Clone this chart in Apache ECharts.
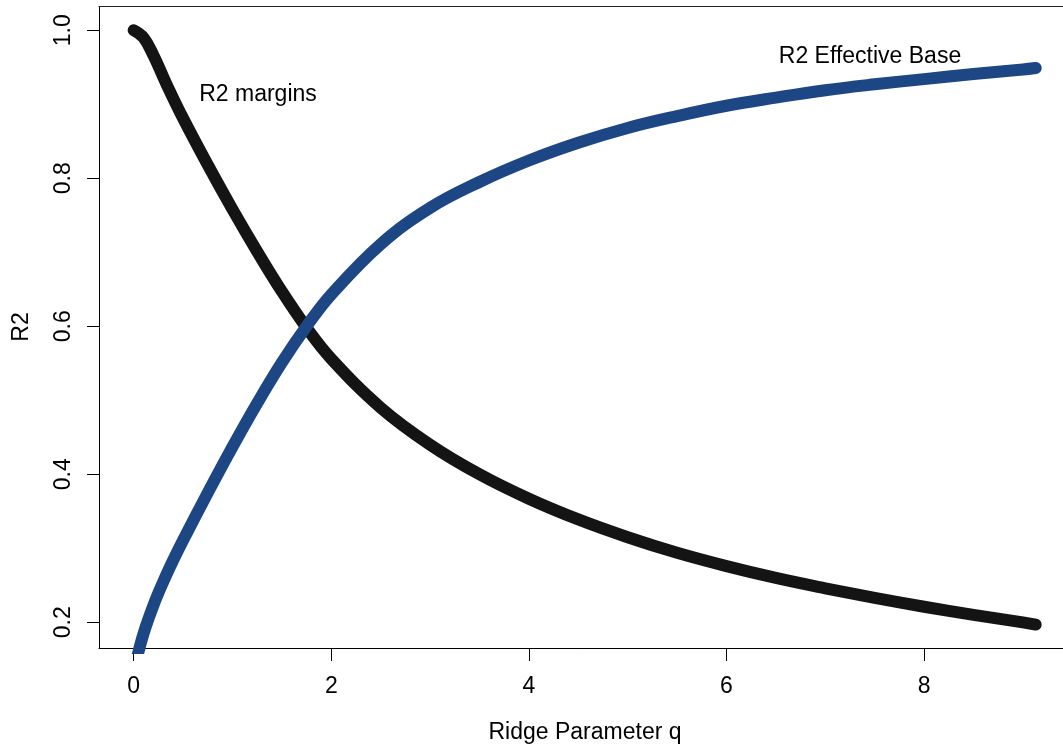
<!DOCTYPE html>
<html>
<head>
<meta charset="utf-8">
<script src="https://cdn.jsdelivr.net/npm/echarts@6/dist/echarts.min.js"></script>
<style>
  html, body { margin: 0; padding: 0; background: #fff; }
  #chart { width: 1063px; height: 748px; }
</style>
</head>
<body>
<div id="chart"></div>
<script>
// ---- data ----
const qMargins = [0, 0.1, 0.2, 0.35, 0.5, 0.75, 1, 1.25, 1.5, 1.75, 2, 2.5, 3, 3.5, 4, 4.5, 5, 5.5, 6, 6.5, 7, 7.5, 8, 8.5, 9, 9.13];
const r2Margins = [1.000, 0.990, 0.966, 0.922, 0.881, 0.818, 0.758, 0.701, 0.647, 0.598, 0.556, 0.490, 0.440, 0.400, 0.367, 0.339, 0.315, 0.294, 0.276, 0.260, 0.246, 0.233, 0.221, 0.210, 0.200, 0.197];

const qEffective = [0.03, 0.1, 0.2, 0.3, 0.4, 0.5, 0.75, 1, 1.25, 1.5, 1.75, 2, 2.5, 3, 3.5, 4, 4.5, 5, 5.5, 6, 6.5, 7, 7.5, 8, 8.5, 9, 9.13];
const r2Effective = [0.150, 0.185, 0.223, 0.255, 0.284, 0.311, 0.375, 0.437, 0.496, 0.551, 0.600, 0.643, 0.711, 0.760, 0.795, 0.824, 0.848, 0.868, 0.884, 0.898, 0.909, 0.919, 0.927, 0.934, 0.941, 0.947, 0.949];

const xTicks = [0, 2, 4, 6, 8];
const yTicks = [0.2, 0.4, 0.6, 0.8, 1.0];

const xTitle = 'Ridge Parameter q';
const yTitle = 'R2';
const labelMargins = 'R2 margins';
const labelEffective = 'R2 Effective Base';

// ---- chart ----
const FONT = '"Liberation Sans", Arial, Helvetica, sans-serif';
const FS = 23;
const chart = echarts.init(document.getElementById('chart'), null, { renderer: 'canvas' });

const marginsData = qMargins.map((q, i) => [q, r2Margins[i]]);
const effectiveData = qEffective.map((q, i) => [q, r2Effective[i]]);

const X_MIN = -0.351, X_MAX = 9.406;

chart.setOption({
  animation: false,
  backgroundColor: '#ffffff',
  grid: { left: 99, top: 6.5, right: 0, height: 641.5, show: false },
  xAxis: [
    {
      type: 'value', min: X_MIN, max: X_MAX,
      axisLine: { show: true, onZero: false, lineStyle: { color: '#000', width: 1 } },
      axisTick: { show: true, length: 13, customValues: xTicks, lineStyle: { color: '#000' } },
      axisLabel: { customValues: xTicks, margin: 27, fontSize: FS, color: '#000', fontFamily: FONT },
      splitLine: { show: false }
    },
    {
      type: 'value', position: 'top', min: X_MIN, max: X_MAX,
      axisLine: { show: true, onZero: false, lineStyle: { color: '#222', width: 1 } },
      axisTick: { show: false }, axisLabel: { show: false }, splitLine: { show: false }
    }
  ],
  yAxis: {
    type: 'value', min: 0.1653, max: 1.0321,
    axisLine: { show: true, onZero: false, lineStyle: { color: '#000', width: 1 } },
    axisTick: { show: true, length: 12, customValues: yTicks, lineStyle: { color: '#000' } },
    axisLabel: {
      customValues: yTicks, rotate: 90, margin: 24, fontSize: FS, color: '#000', fontFamily: FONT,
      formatter: v => Number(v).toFixed(1)
    },
    splitLine: { show: false }
  },
  graphic: [
    { type: 'text', x: 585, y: 733, style: { text: xTitle, fontSize: FS, fontFamily: FONT, fill: '#000', align: 'center', verticalAlign: 'middle' } },
    { type: 'text', x: 22, y: 327, rotation: Math.PI / 2, style: { text: yTitle, fontSize: FS, fontFamily: FONT, fill: '#000', align: 'center', verticalAlign: 'middle' } },
    { type: 'text', x: 258, y: 95, style: { text: labelMargins, fontSize: FS, fontFamily: FONT, fill: '#000', align: 'center', verticalAlign: 'middle' } },
    { type: 'text', x: 870, y: 57, style: { text: labelEffective, fontSize: FS, fontFamily: FONT, fill: '#000', align: 'center', verticalAlign: 'middle' } }
  ],
  series: [
    {
      name: labelMargins, type: 'line', data: marginsData, showSymbol: false,
      smooth: 0.4, clip: true, xAxisIndex: 0,
      lineStyle: { color: '#141414', width: 12, cap: 'round', join: 'round' }
    },
    {
      name: labelEffective, type: 'line', data: effectiveData, showSymbol: false,
      smooth: 0.4, clip: true, xAxisIndex: 0,
      lineStyle: { color: '#1d4784', width: 12, cap: 'round', join: 'round' }
    }
  ]
});
</script>
</body>
</html>
